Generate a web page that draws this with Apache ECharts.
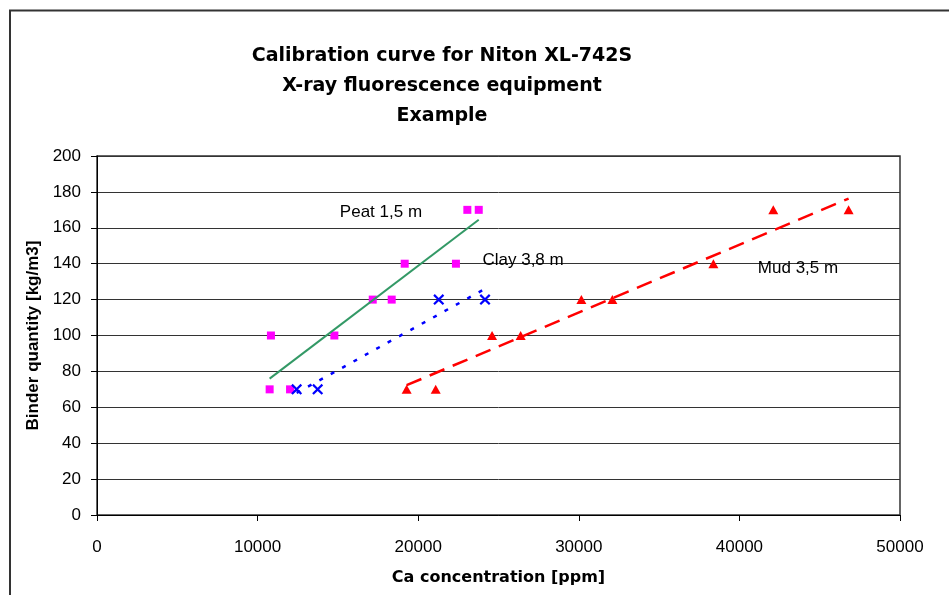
<!DOCTYPE html>
<html>
<head>
<meta charset="utf-8">
<script src="https://cdn.jsdelivr.net/npm/echarts@6/dist/echarts.min.js"></script>
<style>
  html, body { margin: 0; padding: 0; background: #fff; }
  #chart { width: 949px; height: 595px; }
</style>
</head>
<body>
<div id="chart"></div>
<script>
// measured points (Ca ppm vs binder kg/m3)
const peatX = [10750, 10830, 12020, 14780, 17170, 18350, 19160, 22350, 23060, 23770];
const peatY = [70, 100, 70, 100, 120, 120, 140, 140, 170, 170];
const clayX = [12430, 13740, 21280, 24160];
const clayY = [70, 70, 120, 120];
const mudX = [19280, 21090, 24600, 26380, 30160, 32090, 38380, 42110, 46800];
const mudY = [70, 70, 100, 100, 120, 120, 140, 170, 170];

// trend line end points
const peatTrendX = [10750, 23770];
const peatTrendY = [76, 164.5];
const clayTrendX = [12430, 24160];
const clayTrendY = [68, 126];
const mudTrendX = [19280, 46800];
const mudTrendY = [72.3, 176.3];

// in-plot labels
const labelNames = ['Peat 1,5 m', 'Clay 3,8 m', 'Mud 3,5 m'];
const labelX = [17680, 26530, 43650];
const labelY = [168.5, 141.9, 137.2];

const pairs = (xs, ys) => xs.map((x, i) => [x, ys[i]]);

const crossPath = 'path://M0,1.4L1.4,0L5,3.6L8.6,0L10,1.4L6.4,5L10,8.6L8.6,10L5,6.4L1.4,10L0,8.6L3.6,5Z';

const chart = echarts.init(document.getElementById('chart'));

chart.setOption({
  animation: false,
  backgroundColor: '#fff',
  title: {
    text: 'Calibration curve for Niton XL-742S\nX-ray fluorescence equipment\nExample',
    left: 437,
    top: 36,
    textAlign: 'center',
    textStyle: {
      fontFamily: 'DejaVu Sans',
      fontWeight: 'bold',
      fontSize: 19,
      lineHeight: 30,
      color: '#000'
    }
  },
  graphic: [{
    type: 'rect',
    shape: { x: 10, y: 10.5, width: 1000, height: 1000 },
    style: { fill: 'none', stroke: '#333', lineWidth: 2 },
    silent: true
  }],
  grid: {
    left: 97,
    right: 49,
    top: 156,
    bottom: 80,
    show: true,
    borderColor: '#333',
    borderWidth: 1.5
  },
  xAxis: {
    type: 'value',
    min: 0,
    max: 50000,
    interval: 10000,
    name: 'Ca concentration [ppm]',
    nameLocation: 'middle',
    nameGap: 55,
    nameTextStyle: { fontFamily: 'DejaVu Sans', fontWeight: 'bold', fontSize: 16, color: '#000' },
    axisLine: { onZero: false, lineStyle: { color: '#000', width: 1 } },
    axisTick: { show: true, inside: false, length: 6, lineStyle: { color: '#000' } },
    axisLabel: {
      margin: 24,
      fontFamily: 'Liberation Sans',
      fontSize: 17,
      color: '#000',
      formatter: v => String(v)
    },
    splitLine: { show: false }
  },
  yAxis: {
    type: 'value',
    min: 0,
    max: 200,
    interval: 20,
    name: 'Binder quantity [kg/m3]',
    nameLocation: 'middle',
    nameGap: 54,
    nameTextStyle: { fontFamily: 'Liberation Sans', fontWeight: 'bold', fontSize: 17, color: '#000' },
    axisLine: { show: true, onZero: false, lineStyle: { color: '#000', width: 1 } },
    axisTick: { show: true, inside: false, length: 6, lineStyle: { color: '#000' } },
    axisLabel: { margin: 16, fontFamily: 'Liberation Sans', fontSize: 17, color: '#000' },
    splitLine: { show: true, lineStyle: { color: '#333', width: 1 } }
  },
  series: [
    {
      name: 'Peat',
      type: 'scatter',
      symbol: 'rect',
      symbolSize: 8,
      itemStyle: { color: '#ff00ff', opacity: 1 },
      data: pairs(peatX, peatY),
      z: 2
    },
    {
      name: 'Clay',
      type: 'scatter',
      symbol: crossPath,
      symbolSize: 11,
      itemStyle: { color: '#0000ff', opacity: 1 },
      data: pairs(clayX, clayY),
      z: 2
    },
    {
      name: 'Mud',
      type: 'scatter',
      symbol: 'triangle',
      symbolSize: [10, 9],
      itemStyle: { color: '#ff0000', opacity: 1 },
      data: pairs(mudX, mudY),
      z: 2
    },
    {
      name: 'Peat trend',
      type: 'line',
      showSymbol: false,
      lineStyle: { color: '#339966', width: 2 },
      data: pairs(peatTrendX, peatTrendY),
      z: 3
    },
    {
      name: 'Clay trend',
      type: 'line',
      showSymbol: false,
      lineStyle: { color: '#0000ff', width: 2.5, type: [4, 9] },
      data: pairs(clayTrendX, clayTrendY),
      z: 3
    },
    {
      name: 'Mud trend',
      type: 'line',
      showSymbol: false,
      lineStyle: { color: '#ff0000', width: 2.5, type: [16, 9] },
      data: pairs(mudTrendX, mudTrendY),
      z: 3
    },
    {
      name: 'labels',
      type: 'scatter',
      symbolSize: 0,
      silent: true,
      itemStyle: { opacity: 1 },
      data: pairs(labelX, labelY),
      label: {
        show: true,
        position: 'inside',
        formatter: p => labelNames[p.dataIndex],
        fontFamily: 'Liberation Sans',
        fontSize: 17,
        color: '#000',
        textBorderWidth: 0
      },
      z: 4
    }
  ]
});
</script>
</body>
</html>
